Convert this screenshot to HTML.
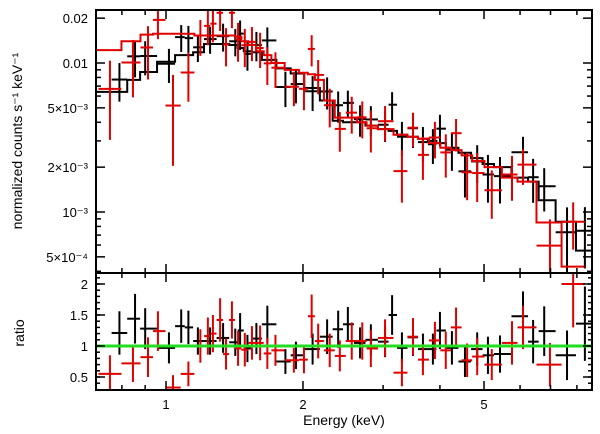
<!DOCTYPE html>
<html><head><meta charset="utf-8">
<style>
body{margin:0;background:#fff;}
svg{display:block;font-family:"Liberation Sans",Arial,sans-serif;}
</style></head>
<body>
<svg id="chart" width="600" height="434" viewBox="0 0 600 434">
<defs>
<clipPath id="ctop"><rect x="96" y="10" width="496" height="263"/></clipPath>
<clipPath id="cbot"><rect x="96" y="273" width="496" height="117"/></clipPath>
</defs>
<g id="gtop" clip-path="url(#ctop)"></g>
<g id="gbot" clip-path="url(#cbot)"></g>
<g id="gaxes"></g>
<text x="22" y="141" font-size="14" text-anchor="middle" transform="rotate(-90 22 141)">normalized counts s⁻¹ keV⁻¹</text>
<text x="24" y="333" font-size="14" text-anchor="middle" transform="rotate(-90 24 333)">ratio</text>
<text x="344" y="425" font-size="14" text-anchor="middle">Energy (keV)</text>
</svg>
<script>
const blackE=[0.79,0.855,0.90,1.015,1.08,1.12,1.175,1.25,1.335,1.42,1.455,1.51,1.58,1.67,1.83,1.93,2.10,2.26,2.39,2.51,2.67,2.82,3.03,3.14,3.30,3.49,3.67,3.86,4.00,4.25,4.54,4.83,5.10,5.42,6.09,6.41,6.78,7.61,8.33];
const blackRatio=[1.21,1.44,1.28,0.97,1.32,1.3,1.08,1.08,1.13,1.06,1.25,0.96,1.12,1.35,0.75,0.85,0.95,1.15,1.27,1.35,1.05,1.1,1.07,1.5,0.97,1.14,0.95,0.95,1.25,0.97,0.75,0.95,0.85,0.87,1.48,1.07,1.24,0.85,1.36];
const blackErr=[0.35,0.4,0.33,0.25,0.27,0.27,0.22,0.22,0.24,0.22,0.28,0.22,0.25,0.3,0.2,0.22,0.25,0.28,0.3,0.28,0.25,0.25,0.25,0.32,0.25,0.3,0.25,0.25,0.3,0.27,0.25,0.27,0.3,0.3,0.4,0.35,0.4,0.4,0.6];
const blackModel=[0.0064,0.0077,0.0087,0.0102,0.0113,0.0113,0.0118,0.0134,0.0134,0.0132,0.0126,0.0120,0.0118,0.0105,0.0092,0.0085,0.0068,0.0056,0.0041,0.0040,0.0040,0.0038,0.0036,0.0035,0.0033,0.0032,0.0031,0.0030,0.0029,0.0027,0.0025,0.0023,0.0021,0.0020,0.0017,0.0016,0.0012,0.00086,0.00055];
const redE=[0.753,0.846,0.913,0.96,1.036,1.12,1.19,1.236,1.268,1.315,1.355,1.396,1.44,1.49,1.545,1.61,1.67,1.74,1.91,2.01,2.09,2.16,2.29,2.41,2.56,2.70,2.82,3.03,3.30,3.49,3.67,3.90,4.12,4.34,4.59,4.83,5.20,5.76,6.09,6.98,7.85];
const redRatio=[0.55,0.72,0.82,1.24,0.33,0.55,1.0,1.16,1.2,1.42,0.87,1.42,0.96,0.94,1.05,1.05,0.88,0.93,0.77,0.78,1.48,1.08,0.93,0.84,1.08,1.08,0.96,1.13,0.57,1.15,0.78,1.09,0.93,1.3,0.77,0.83,0.7,1.05,1.3,0.7,2.0];
const redErr=[0.3,0.3,0.32,0.32,0.2,0.2,0.27,0.3,0.3,0.35,0.25,0.3,0.28,0.27,0.27,0.28,0.25,0.25,0.2,0.22,0.35,0.28,0.27,0.25,0.3,0.3,0.3,0.3,0.22,0.3,0.25,0.3,0.3,0.32,0.27,0.3,0.25,0.35,0.35,0.35,0.7];
const redModel=[0.0122,0.0140,0.0155,0.0157,0.0157,0.0157,0.0153,0.0153,0.0153,0.0153,0.0153,0.0153,0.0150,0.0140,0.0132,0.0120,0.0113,0.0100,0.0090,0.0086,0.0084,0.0077,0.0056,0.0043,0.0043,0.0040,0.0038,0.0036,0.0033,0.0032,0.0031,0.0029,0.0027,0.0026,0.0024,0.0022,0.0020,0.0017,0.0016,0.00085,0.00043];
const xTicks=[1,2,5];
const xTickLabels=["1","2","5"];
const xMinor=[0.7,0.8,0.9,3,4,6,7,8];
const yTopTicks=[0.02,0.01,0.005,0.002,0.001,0.0005];
const yTopLabels=["0.02","0.01","5×10⁻³","2×10⁻³","10⁻³","5×10⁻⁴"];
const yTopMinor=[0.009,0.008,0.007,0.006,0.004,0.003,0.0009,0.0008,0.0007,0.0006,0.0004];
const yRatioTicks=[2,1.5,1,0.5];
const yRatioLabels=["2","1.5","1","0.5"];

const X0=96,X1=592,TT=10,TB=273,BB=390;
const xs=e=>166+455*Math.log10(e);
const yt=v=>63-149*Math.log10(v/0.01);
const yr=r=>346-62*(r-1);
const NS="http://www.w3.org/2000/svg";
function mk(tag,parent,attrs){const el=document.createElementNS(NS,tag);for(const k in attrs)el.setAttribute(k,attrs[k]);parent.appendChild(el);return el;}
const gt=document.getElementById('gtop'),gb=document.getElementById('gbot'),ga=document.getElementById('gaxes');

function edges(E){const ed=[];for(let i=0;i<E.length;i++){const lo=i>0?Math.sqrt(E[i]*E[i-1]):E[i]*E[i]/Math.sqrt(E[i]*E[i+1]);const hi=i<E.length-1?Math.sqrt(E[i]*E[i+1]):E[i]*E[i]/Math.sqrt(E[i]*E[i-1]);ed.push([lo,hi]);}return ed;}

function series(E,R,Er,M,color,name){
  const ed=edges(E);
  let d='';
  for(let i=0;i<E.length;i++){
    const y=yt(M[i]);
    d+=(i===0?'M':'L')+(i===0?X0-5:xs(ed[i][0]))+','+y+' L'+xs(ed[i][1])+','+y+' ';
  }
  const p=mk('path',gt,{d:d,fill:'none',stroke:color,'stroke-width':2});
  
  
  for(let i=0;i<E.length;i++){
    const xa=xs(ed[i][0]),xb=xs(ed[i][1]),xc=xs(E[i]);
    const v=M[i]*R[i],lo=Math.max(M[i]*(R[i]-Er[i]),1e-6),hi=M[i]*(R[i]+Er[i]);
    const g=mk('g',gt,{stroke:color,'stroke-width':2});
    
    
    mk('line',g,{x1:xa,x2:xb,y1:yt(v),y2:yt(v)});
    mk('line',g,{x1:xc,x2:xc,y1:yt(lo),y2:yt(hi)});
    const g2=mk('g',gb,{stroke:color,'stroke-width':2});
    
    
    mk('line',g2,{x1:xa,x2:xb,y1:yr(R[i]),y2:yr(R[i])});
    mk('line',g2,{x1:xc,x2:xc,y1:yr(R[i]-Er[i]),y2:yr(R[i]+Er[i])});
  }
}
series(blackE,blackRatio,blackErr,blackModel,'#000','black');
series(redE,redRatio,redErr,redModel,'#e00000','red');

const gl=mk('line',gb,{x1:X0,x2:X1,y1:yr(1),y2:yr(1),stroke:'#22dd22','stroke-width':3});



const f1=mk('rect',ga,{x:X0,y:TT,width:X1-X0,height:TB-TT,fill:'none',stroke:'#000','stroke-width':2});


const f2=mk('rect',ga,{x:X0,y:TB,width:X1-X0,height:BB-TB,fill:'none',stroke:'#000','stroke-width':2});


function tk(x1,y1,x2,y2){mk('line',ga,{x1:x1,y1:y1,x2:x2,y2:y2,stroke:'#000','stroke-width':1.5});}
xTicks.forEach((e,i)=>{const x=xs(e);[[TT,9],[TB,-9],[TB,9],[BB,-9]].forEach(([y,l])=>tk(x,y,x,y+l));
  const t=mk('text',ga,{x:x,y:BB+19,'font-size':13,'text-anchor':'middle'});t.textContent=xTickLabels[i];
  
  });
xMinor.forEach(e=>{const x=xs(e);if(x<X0+1||x>X1-1)return;[[TT,5],[TB,-5],[TB,5],[BB,-5]].forEach(([y,l])=>tk(x,y,x,y+l));});
yTopTicks.forEach((v,i)=>{const y=yt(v);tk(X0,y,X0+9,y);tk(X1,y,X1-9,y);
  const t=mk('text',ga,{x:X0-8,y:y+5,'font-size':13,'text-anchor':'end'});t.textContent=yTopLabels[i];
  
  });
yTopMinor.forEach(v=>{const y=yt(v);tk(X0,y,X0+5,y);tk(X1,y,X1-5,y);});
yRatioTicks.forEach((v,i)=>{const y=yr(v);tk(X0,y,X0+9,y);tk(X1,y,X1-9,y);
  const t=mk('text',ga,{x:X0-8,y:y+5,'font-size':13,'text-anchor':'end'});t.textContent=yRatioLabels[i];
  
  });
for(let r=0.3;r<2.15;r+=0.1){const y=yr(r);if(y<TB+1||y>BB-1)continue;tk(X0,y,X0+4,y);tk(X1,y,X1-4,y);}
</script>
</body></html>
